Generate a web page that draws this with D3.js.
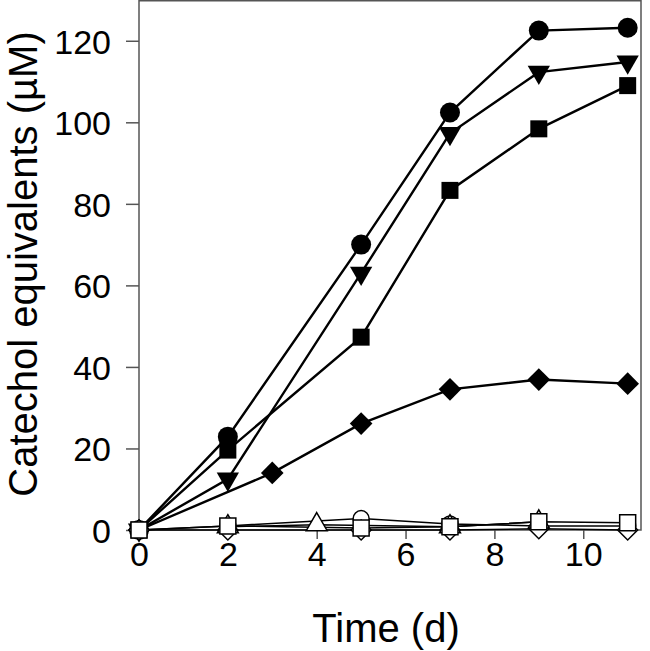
<!DOCTYPE html>
<html><head><meta charset="utf-8">
<script src="https://cdn.jsdelivr.net/npm/d3@7"></script>
<style>body{margin:0;background:#fff}svg{display:block}</style>
</head><body>
<script>
// ---- data ----
const circleFilledX = [0, 2, 5, 7, 9, 11];
const circleFilledY = [0, 22.9, 70.0, 102.4, 122.5, 123.2];
const triDownFilledX = [0, 2, 5, 7, 9, 11];
const triDownFilledY = [0, 12.5, 63.0, 97.3, 112.3, 114.8];
const squareFilledX = [0, 2, 5, 7, 9, 11];
const squareFilledY = [0, 19.6, 47.3, 83.3, 98.4, 109.0];
const diamondFilledX = [0, 3, 5, 7, 9, 11];
const diamondFilledY = [0, 14.0, 26.1, 34.5, 36.9, 35.9];
const circleOpenX = [0, 2, 5, 7, 9, 11];
const circleOpenY = [0, 1.0, 2.8, 1.5, 1.0, 1.0];
const diamondOpenX = [0, 2, 5, 7, 9, 11];
const diamondOpenY = [0, 0, 0, 0, 0.3, 0];
const triUpOpenX = [2, 4, 7, 9];
const triUpOpenY = [0.8, 1.3, 0.8, 2.0];
const squareOpenX = [0, 2, 5, 7, 9, 11];
const squareOpenY = [0, 1.0, 0.5, 0.8, 2.0, 1.8];
const xTicks = [0, 2, 4, 6, 8, 10];
const yTicks = [0, 20, 40, 60, 80, 100, 120];

const W = 650, H = 651;
const L = 139, R = 641, T = 0, B = 530;
const svg = d3.select("body").append("svg").attr("width", W).attr("height", H);
const x = d3.scaleLinear().domain([0, 11.3]).range([L, R]);
const y = d3.scaleLinear().domain([0, 130]).range([B, T]);

const font = "'Liberation Sans', Arial, sans-serif";

// axes
const gx = svg.append("g").attr("transform", `translate(0,${B})`)
  .call(d3.axisBottom(x).tickValues(xTicks).tickSize(9).tickPadding(3).tickFormat(d3.format("d")));
const gy = svg.append("g").attr("transform", `translate(${L},0)`)
  .call(d3.axisLeft(y).tickValues(yTicks).tickSize(13).tickPadding(15).tickFormat(d3.format("d")));
[gx, gy].forEach(g => {
  g.select(".domain").remove();
  g.selectAll(".tick line").attr("stroke", "#555").attr("stroke-width", 1.5);
  g.selectAll(".tick text").attr("font-family", font).attr("font-size", 34).attr("fill", "#000");
});
gy.selectAll(".tick text").attr("dy", "0.36em");

// frame
svg.append("rect").attr("x", L).attr("y", T + 0.75).attr("width", R - L).attr("height", B - T - 0.75)
  .attr("fill", "none").attr("stroke", "#555").attr("stroke-width", 1.5);

// titles
svg.append("text").attr("x", 386).attr("y", 642).attr("text-anchor", "middle")
  .attr("font-family", font).attr("font-size", 40).text("Time (d)");
svg.append("text").attr("transform", `translate(37,264) rotate(-90)`)
  .attr("text-anchor", "middle").attr("font-family", font).attr("font-size", 40)
  .text("Catechol equivalents (\u00B5M)");

const series = [
  {xs: circleOpenX, ys: circleOpenY, sym: d3.symbolCircle, size: 200, rot: 0, fill: "#fff", lw: 1.5},
  {xs: diamondOpenX, ys: diamondOpenY, sym: d3.symbolSquare, size: 200, rot: 45, fill: "#fff", lw: 1.5},
  {xs: squareOpenX, ys: squareOpenY, sym: d3.symbolSquare, size: 256, rot: 0, fill: "#fff", lw: 1.5},
  {xs: triUpOpenX, ys: triUpOpenY, sym: d3.symbolTriangle, size: 190, rot: 0, fill: "#fff", lw: 1.5},
  {xs: diamondFilledX, ys: diamondFilledY, sym: d3.symbolSquare, size: 256, rot: 45, fill: "#000", lw: 2.4},
  {xs: squareFilledX, ys: squareFilledY, sym: d3.symbolSquare, size: 289, rot: 0, fill: "#000", lw: 2.4},
  {xs: triDownFilledX, ys: triDownFilledY, sym: d3.symbolTriangle, size: 215, rot: 180, fill: "#000", lw: 2.4},
  {xs: circleFilledX, ys: circleFilledY, sym: d3.symbolCircle, size: 314, rot: 0, fill: "#000", lw: 2.4},
];

const line = d3.line().x(d => x(d[0])).y(d => y(d[1]));
series.forEach(s => {
  const pts = s.xs.map((v, i) => [v, s.ys[i]]);
  svg.append("path").attr("d", line(pts)).attr("fill", "none")
    .attr("stroke", "#000").attr("stroke-width", s.lw);
});
const order = [4, 5, 6, 7, 0, 1, 3, 2];
order.forEach(k => {
  const s = series[k];
  const pts = s.xs.map((v, i) => [v, s.ys[i]]);
  svg.append("g").selectAll("path").data(pts).join("path")
    .attr("d", d3.symbol().type(s.sym).size(s.size))
    .attr("transform", d => `translate(${x(d[0])},${y(d[1])}) rotate(${s.rot})`)
    .attr("fill", s.fill).attr("stroke", "#000").attr("stroke-width", s.fill === "#fff" ? 1.5 : 0);
});
</script>
</body></html>
